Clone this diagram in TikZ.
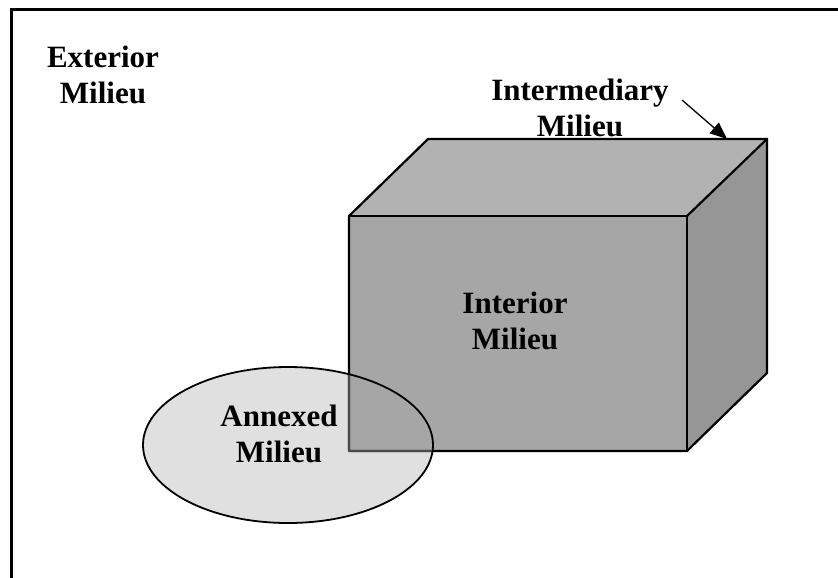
\documentclass[tikz,border=0pt]{standalone}
\usepackage{fontspec}
\setmainfont{Liberation Serif}
\usetikzlibrary{arrows.meta}
\definecolor{topc}{HTML}{B2B2B2}
\definecolor{frontc}{HTML}{A6A6A6}
\definecolor{sidec}{HTML}{969696}
\definecolor{ellc}{HTML}{E1E0E1}
\tikzset{
  lbl/.style={align=center,font=\fontsize{31}{36}\selectfont\bfseries,inner sep=0pt},
  edge/.style={line width=2.2pt,line join=miter},
}
\begin{document}
\begin{tikzpicture}[x=1pt,y=-1pt]
\useasboundingbox (0,0) rectangle (838,578);
% frame
\draw[line width=2.5pt] (11.5,600) -- (11.5,9.5) -- (860,9.5);
% labels behind box
\node[lbl] (ext) at (103,75) {Exterior\\Milieu};
\node[lbl] (inter) at (580,108) {Intermediary\\Milieu};
% box corners
\coordinate (A) at (349,216);
\coordinate (B) at (687,216);
\coordinate (C) at (687,451);
\coordinate (D) at (349,451);
\coordinate (E) at (428,139);
\coordinate (F) at (767,139);
\coordinate (G) at (767,373);
% ellipse fill
\fill[ellc] (288,445) ellipse[x radius=145,y radius=78];
% faces
\fill[topc] (A) -- (E) -- (F) -- (B) -- cycle;
\fill[sidec] (B) -- (F) -- (G) -- (C) -- cycle;
\fill[frontc] (A) -- (B) -- (C) -- (D) -- cycle;
\draw[edge] (D) -- (A) -- (E) -- (F) -- (G) -- (C) -- (D);
\draw[edge] (A) -- (B) -- (C);
\draw[edge] (B) -- (F);
% lighter box edges inside ellipse
\begin{scope}
\clip (288,445) ellipse[x radius=145,y radius=78];
\draw[line width=2.2pt,color=black!70] (A) -- (D) -- (C);
\end{scope}
\draw[line width=1.8pt] (288,445) ellipse[x radius=145,y radius=78];
% labels
\node[lbl] (int) at (515,321) {Interior\\Milieu};
\node[lbl] (ann) at (279,434) {Annexed\\Milieu};
% arrow
\coordinate (arrS) at (682,100);
\coordinate (arrT) at (727,139);
\draw[line width=1.3pt,-{Triangle[length=17pt,width=14pt]}] (arrS) -- (arrT);
\end{tikzpicture}
\end{document}
